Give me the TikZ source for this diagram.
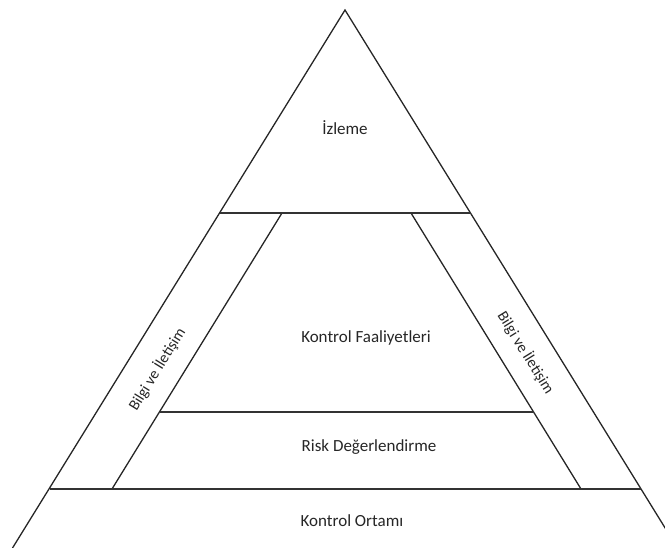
\documentclass[tikz,border=0pt]{standalone}
\usepackage{fontspec}
\setmainfont{Carlito}
\usetikzlibrary{calc}
\begin{document}
\begin{tikzpicture}[x=1pt,y=1pt,
  side/.style={draw=black!85,line width=1.3pt},
  bar/.style={draw=black!80,line width=1.6pt},
  lbl/.style={font=\fontsize{17}{20}\selectfont,text=black!85,inner sep=0pt},
  bandlbl/.style={lbl,font=\fontsize{15.5}{18}\selectfont}]
\useasboundingbox (0,0) rectangle (665,-548);
\clip (0,0) rectangle (665,-548);
% outer triangle and its level points
\coordinate (apex) at (345,-10);
\coordinate (lt)  at (219.5,-213);
\coordinate (rt)  at (470.5,-213);
\coordinate (lb)  at (49.5,-489);
\coordinate (rb)  at (640.5,-489);
\coordinate (lend) at (12.5,-548);
\coordinate (rend) at (677.5,-548);
% inner edges of the two side bands
\coordinate (ilt) at (282,-213);
\coordinate (ilb) at (112,-489);
\coordinate (irt) at (411,-213);
\coordinate (irb) at (581,-489);
\coordinate (ilm) at (159.5,-412);
\coordinate (irm) at (533.5,-412);
% sides
\draw[side] (lend) -- (apex) -- (rend);
\draw[side] (ilt) -- (ilb);
\draw[side] (irt) -- (irb);
% horizontal levels
\draw[bar] (lt) -- (rt);
\draw[bar] (ilm) -- (irm);
\draw[bar] (lb) -- (rb);
% labels
\node[lbl] (izl) at (345,-128) {İzleme};
\node[lbl] (kf)  at (366,-338) {Kontrol Faaliyetleri};
\node[lbl] (rd)  at (369,-447) {Risk Değerlendirme};
\node[lbl] (ko)  at (352,-521) {Kontrol Ortamı};
\node[bandlbl,rotate=58.3]  (bl) at (157,-369) {Bilgi ve İletişim};
\node[bandlbl,rotate=-58.3] (br) at (526,-353) {Bilgi ve İletişim};
\end{tikzpicture}
\end{document}
